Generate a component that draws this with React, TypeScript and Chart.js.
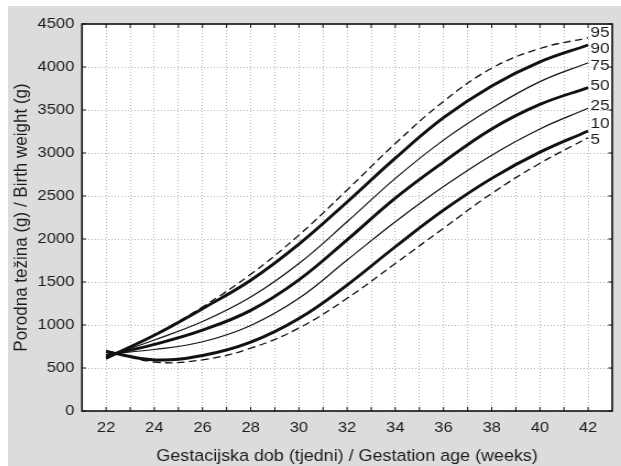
import React, { useEffect, useRef } from "react";
import { Chart, registerables } from "chart.js";

Chart.register(...registerables);

// ---------- data ----------
const weeks = [22, 24, 26, 28, 30, 32, 34, 36, 38, 40, 42];
const p95 = [605, 885, 1210, 1590, 2045, 2570, 3110, 3600, 3985, 4215, 4340];
const p90 = [615, 880, 1190, 1520, 1940, 2430, 2940, 3410, 3780, 4060, 4256];
const p75 = [630, 825, 1040, 1325, 1715, 2200, 2705, 3150, 3520, 3830, 4050];
const p50 = [645, 775, 940, 1170, 1525, 1990, 2475, 2895, 3280, 3565, 3760];
const p25 = [660, 715, 805, 995, 1310, 1755, 2200, 2610, 2975, 3280, 3520];
const p10 = [690, 595, 645, 800, 1075, 1465, 1910, 2335, 2705, 3010, 3256];
const p5 = [705, 570, 595, 730, 965, 1310, 1715, 2125, 2530, 2880, 3178];

const percentileNames = ["95", "90", "75", "50", "25", "10", "5"];
const xTickWeeks = [22, 24, 26, 28, 30, 32, 34, 36, 38, 40, 42];
const xMinorWeeks = [22, 23, 24, 25, 26, 27, 28, 29, 30, 31, 32, 33, 34, 35, 36, 37, 38, 39, 40, 41, 42];
const yTickValues = [0, 500, 1000, 1500, 2000, 2500, 3000, 3500, 4000, 4500];

const xTitle = "Gestacijska dob (tjedni) / Gestation age (weeks)";
const yTitle = "Porodna težina (g) / Birth weight (g)";

// ---------- style ----------
const FONT = "'Liberation Sans', Arial, Helvetica, sans-serif";
const TEXT = "#1c1c1c";
const PANEL = "#dcdcdc";
const GRID = "#b4b4b4";

const CSS_W = 613;
const CSS_H = 460;
const STRETCH = 1.1;
const W = Math.round(CSS_W / STRETCH);
const SX = CSS_W / W;

const PLOT_LEFT = 74 / SX;
const PLOT_RIGHT = 611.5 / SX;
const PLOT_TOP = 18;
const PLOT_BOTTOM = 405;

const seriesData = [p95, p90, p75, p50, p25, p10, p5];
const seriesStyle = [
  { width: 1.3, dash: [7, 4], labelDy: -4.7 },
  { width: 2.9, dash: [], labelDy: 3.3 },
  { width: 1.2, dash: [], labelDy: 3 },
  { width: 2.9, dash: [], labelDy: -1.7 },
  { width: 1.2, dash: [], labelDy: -2.3 },
  { width: 2.9, dash: [], labelDy: -7 },
  { width: 1.3, dash: [7, 4], labelDy: 1.6 },
];

const framePlugin = {
  id: "frameAndLabels",
  beforeDraw(chart: any) {
    const { ctx, width, height, chartArea: a } = chart;
    ctx.save();
    ctx.fillStyle = PANEL;
    ctx.fillRect(0, 0, width, height);
    ctx.fillStyle = "#ffffff";
    ctx.fillRect(a.left, a.top, a.right - a.left, a.bottom - a.top);
    ctx.restore();
  },
  afterDatasetsDraw(chart: any) {
    const { ctx, chartArea: a, scales } = chart;
    const xs = scales.x;
    const ys = scales.y;
    ctx.save();
    ctx.setLineDash([]);
    ctx.strokeStyle = "#111111";
    ctx.lineWidth = 1.6;
    ctx.strokeRect(a.left, a.top, a.right - a.left, a.bottom - a.top);
    ctx.lineWidth = 1;
    ctx.beginPath();
    xMinorWeeks.forEach((w) => {
      const px = xs.getPixelForValue(w);
      ctx.moveTo(px, a.bottom);
      ctx.lineTo(px, a.bottom - 4);
      ctx.moveTo(px, a.top);
      ctx.lineTo(px, a.top + 4);
    });
    yTickValues.forEach((v) => {
      const py = ys.getPixelForValue(v);
      ctx.moveTo(a.left, py);
      ctx.lineTo(a.left + 4 / SX, py);
      ctx.moveTo(a.right, py);
      ctx.lineTo(a.right - 4 / SX, py);
    });
    ctx.stroke();

    ctx.font = `15.5px ${FONT}`;
    ctx.fillStyle = TEXT;
    ctx.textBaseline = "middle";
    ctx.textAlign = "left";
    chart.data.datasets.forEach((_ds: any, i: number) => {
      const meta = chart.getDatasetMeta(i);
      const last = meta.data[meta.data.length - 1];
      ctx.fillText(percentileNames[i], last.x + 2.4 / SX, last.y + seriesStyle[i].labelDy);
    });
    ctx.restore();
  },
};

export default function App() {
  const ref = useRef<HTMLCanvasElement>(null);

  useEffect(() => {
    const canvas = ref.current;
    if (!canvas) return;
    const datasets = seriesData.map((arr, i) => ({
      label: percentileNames[i],
      data: weeks.map((w, j) => ({ x: w, y: arr[j] })),
      borderColor: "#111111",
      borderWidth: seriesStyle[i].width,
      borderDash: seriesStyle[i].dash,
      pointRadius: 0,
      fill: false,
      tension: 0.4,
    }));

    const chart = new Chart(canvas, {
      type: "line",
      data: { datasets },
      plugins: [framePlugin],
      options: {
        responsive: false,
        animation: false,
        layout: { padding: { top: PLOT_TOP, right: W - PLOT_RIGHT, left: 0, bottom: 0 } },
        plugins: {
          legend: { display: false },
          tooltip: { enabled: false },
        },
        scales: {
          x: {
            type: "linear",
            position: "bottom",
            min: 21,
            max: 43,
            afterFit: (s: any) => {
              s.height = CSS_H - PLOT_BOTTOM;
            },
            ticks: {
              stepSize: 1,
              autoSkip: false,
              maxRotation: 0,
              padding: 8,
              color: TEXT,
              font: { family: FONT, size: 15 },
              callback: (v: any) => (xTickWeeks.includes(Number(v)) ? String(v) : ""),
            },
            grid: { color: GRID, lineWidth: 1, drawTicks: false },
            border: { display: false, dash: [1, 2] },
            title: {
              display: true,
              text: xTitle,
              color: TEXT,
              font: { family: FONT, size: 16.3, lineHeight: 1.2 },
              padding: { top: 0, bottom: -0.5 },
            },
          },
          y: {
            type: "linear",
            min: 0,
            max: 4500,
            afterFit: (s: any) => {
              s.width = PLOT_LEFT;
            },
            ticks: {
              stepSize: 500,
              padding: 7,
              color: TEXT,
              font: { family: FONT, size: 15 },
              callback: (v: any) => (yTickValues.includes(Number(v)) ? String(v) : ""),
            },
            grid: { color: GRID, lineWidth: 1, drawTicks: false },
            border: { display: false, dash: [1, 2] },
            title: {
              display: true,
              text: yTitle,
              color: TEXT,
              font: { family: FONT, size: 17, lineHeight: 1.2 },
              padding: { top: 1.8, bottom: 0 },
            },
          },
        },
      },
    });
    return () => chart.destroy();
  }, []);

  return (
    <div style={{ position: "fixed", left: 8, top: 6, width: CSS_W, height: CSS_H, overflow: "hidden" }}>
      <canvas
        ref={ref}
        width={W}
        height={CSS_H}
        style={{ width: `${CSS_W}px`, height: `${CSS_H}px`, display: "block" }}
      />
    </div>
  );
}
